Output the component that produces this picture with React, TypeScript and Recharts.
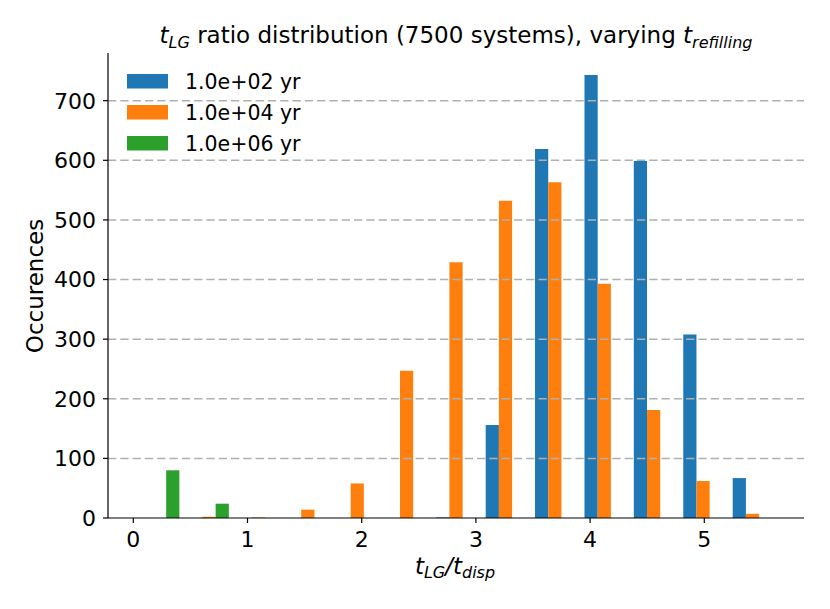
import React from 'react';
import { ComposedChart, Bar, XAxis, YAxis, ReferenceLine, Customized } from 'recharts';

// Histogram bin centres (t_LG / t_disp)
const binCenters = [0.229, 0.662, 1.095, 1.527, 1.96, 2.392, 2.825, 3.258, 3.69, 4.123, 4.555, 4.988, 5.421];
// Occurrences per bin for each t_refilling
const series1e2 = [0, 0, 0, 0, 0, 0, 1, 156, 619, 743, 599, 308, 67];
const series1e4 = [0, 2, 1, 14, 58, 247, 429, 532, 563, 393, 181, 62, 7];
const series1e6 = [80, 24, 0, 0, 0, 0, 0, 0, 0, 0, 0, 0, 0];

const seriesNames = ['1.0e+02 yr', '1.0e+04 yr', '1.0e+06 yr'];
const seriesKeys = ['a', 'b', 'c'];
const colors = ['#1f77b4', '#ff7f0e', '#2ca02c'];

const xTicks = [0, 1, 2, 3, 4, 5];
const yTicks = [0, 100, 200, 300, 400, 500, 600, 700];
const gridValues = [100, 200, 300, 400, 500, 600, 700];

const data = binCenters.map((x, i) => ({
  x,
  a: series1e2[i],
  b: series1e4[i],
  c: series1e6[i],
}));

const FONT = '"DejaVu Sans", sans-serif';

const Overlay = () => (
  <g fontFamily={FONT} fill="#000">
    <text x={456} y={43.3} textAnchor="middle" fontSize={23}>
      <tspan fontStyle="italic">t</tspan>
      <tspan fontStyle="italic" fontSize={16} dy={4.5}>LG</tspan>
      <tspan dy={-4.5}> ratio distribution (7500 systems), varying </tspan>
      <tspan fontStyle="italic">t</tspan>
      <tspan fontStyle="italic" fontSize={16} dy={4.5}>refilling</tspan>
    </text>
    <text x={455} y={573.5} textAnchor="middle" fontSize={23} fontStyle="italic">
      <tspan>t</tspan>
      <tspan fontSize={16} dy={4.5}>LG</tspan>
      <tspan dy={-4.5}>/t</tspan>
      <tspan fontSize={16} dy={4.5}>disp</tspan>
    </text>
    <text x={43.3} y={286} textAnchor="middle" fontSize={23} transform="rotate(-90, 43.3, 286)">
      Occurences
    </text>
    {seriesNames.map((name, i) => (
      <g key={name}>
        <rect x={127} y={74 + i * 31} width={41} height={14.5} fill={colors[i]} />
        <text x={185} y={88.7 + i * 31} fontSize={20.5}>{name}</text>
      </g>
    ))}
  </g>
);

export default function App() {
  return (
    <div style={{ position: 'absolute', left: 0, top: 0, width: 830, height: 609, background: '#fff' }}>
      <ComposedChart
        width={830}
        height={609}
        data={data}
        margin={{ top: 53, right: 26, bottom: 0, left: 0 }}
        barGap={0}
      >
        <XAxis
          dataKey="x"
          type="number"
          domain={[-0.2215, 5.873]}
          ticks={xTicks}
          allowDataOverflow
          height={91}
          tickSize={5}
          tickMargin={8}
          axisLine={{ stroke: '#000', strokeWidth: 1.2 }}
          tickLine={{ stroke: '#000', strokeWidth: 1.2 }}
          tick={{ fill: '#000', fontSize: 22, fontFamily: FONT }}
          interval={0}
        />
        <YAxis
          type="number"
          domain={[0, 780]}
          ticks={yTicks}
          allowDataOverflow
          width={108}
          tickSize={5}
          tickMargin={7}
          axisLine={{ stroke: '#000', strokeWidth: 1.2 }}
          tickLine={{ stroke: '#000', strokeWidth: 1.2 }}
          tick={{ fill: '#000', fontSize: 22, fontFamily: FONT }}
          interval={0}
        />
        {seriesKeys.map((k, i) => (
          <Bar key={k} dataKey={k} fill={colors[i]} barSize={13.2} isAnimationActive={false} />
        ))}
        {gridValues.map((v) => (
          <ReferenceLine key={v} y={v} stroke="#b0b0b0" strokeWidth={1.5} strokeDasharray="8.3 4" />
        ))}
        <Customized component={Overlay} />
      </ComposedChart>
    </div>
  );
}
